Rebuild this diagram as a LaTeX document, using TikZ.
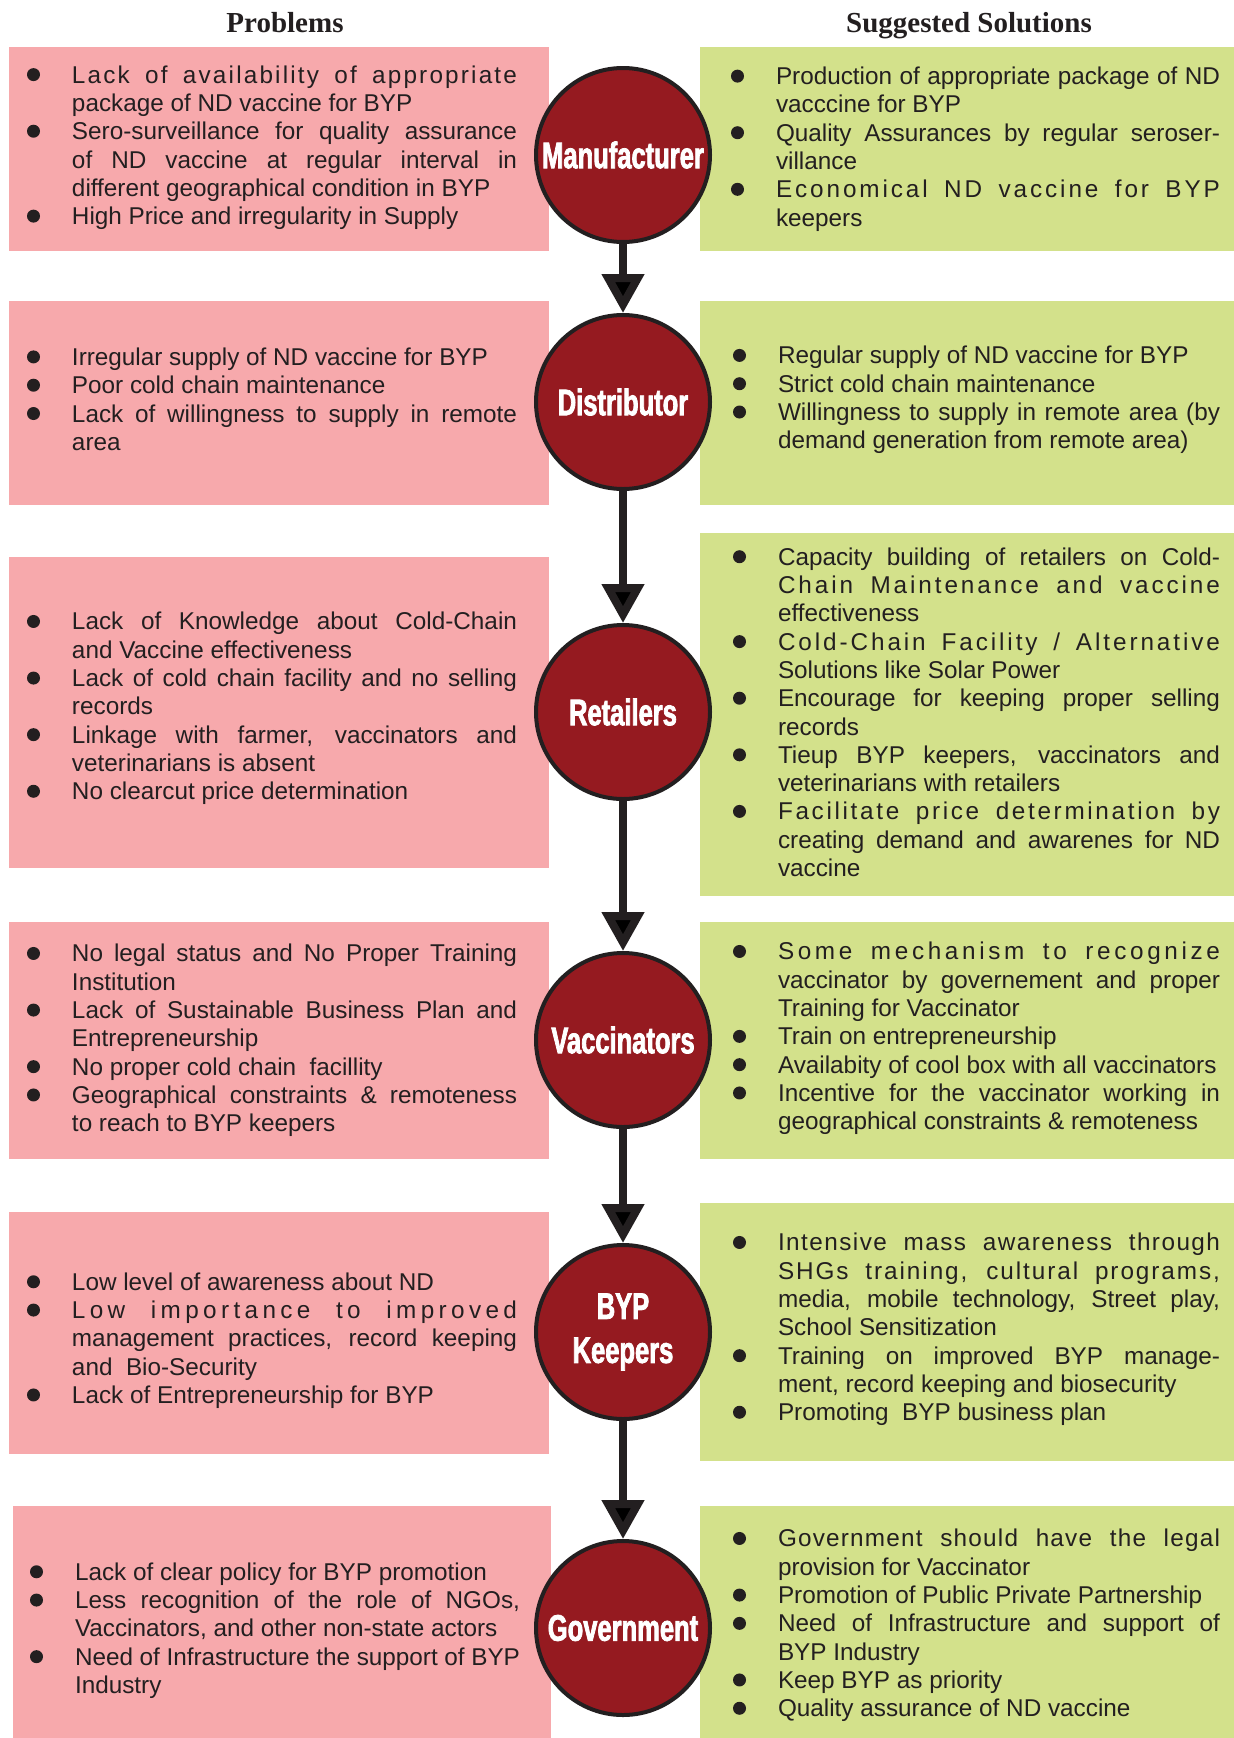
\documentclass[tikz,border=0pt]{standalone}
\usepackage{fontspec}
\usetikzlibrary{arrows.meta}
\setmainfont{Liberation Sans}
\newfontfamily\headfont{Liberation Serif}
\newfontfamily\actorfont{Liberation Sans}[FakeStretch=0.69,FakeBold=2]

\definecolor{ink}{HTML}{231F20}
\definecolor{probpink}{HTML}{F7A9AC}
\definecolor{solgreen}{HTML}{D3E18B}
\definecolor{disc}{HTML}{951A20}

% bullet list lines: \BJ / \J justified, \BN / \N natural width (B = with bullet)
\newlength\bulind
\setlength\bulind{45pt}
\newcommand\strutx{\vrule height 22pt depth 6.3pt width 0pt\relax}
\newcommand\bdot{\tikz[baseline=-8.5pt]\fill[ink] (0,0) circle[radius=6.5pt];}
\newcommand\lsp[1]{\if\relax\detokenize{#1}\relax\else\addfontfeature{LetterSpace=#1}\fi}
\newcommand\jsp{\spaceskip=\fontdimen2\font plus 1fil minus .3\fontdimen2\font\relax}
\newcommand\nsp{\spaceskip=\fontdimen2\font minus .3\fontdimen2\font\relax}
\newcommand\BJ[2][]{\hbox to\hsize{\strutx\makebox[\bulind][l]{\bdot}\lsp{#1}\jsp #2}}
\newcommand\J[2][]{\hbox to\hsize{\strutx\hskip\bulind\relax\lsp{#1}\jsp #2}}
\newcommand\BN[1]{\hbox to\hsize{\strutx\makebox[\bulind][l]{\bdot}\nsp #1\hfil}}
\newcommand\N[1]{\hbox to\hsize{\strutx\hskip\bulind\relax\nsp #1\hfil}}
\newcommand\lines[2]{\vbox{\hsize=#1\offinterlineskip #2}}

\tikzset{
  probbox/.style={fill=probpink, draw=none, inner sep=0pt, outer sep=0pt},
  solbox/.style={fill=solgreen, draw=none, inner sep=0pt, outer sep=0pt},
  actor/.style={circle, fill=disc, draw=ink, line width=4pt, minimum size=174pt,
    inner sep=0pt, text=white, align=center,
    font=\actorfont\bfseries\fontsize{37}{44}\selectfont},
  flow/.style={draw=ink, line width=8pt, -{Triangle[width=41pt,length=39pt]}},
  txt/.style={inner sep=0pt, outer sep=0pt, anchor=west, text=ink,
    font=\fontsize{24.3}{28.3}\selectfont},
  head/.style={inner sep=0pt, anchor=base, text=ink,
    font=\headfont\bfseries\fontsize{29}{32}\selectfont}
}

\begin{document}
\begin{tikzpicture}[x=1pt,y=-1pt]
\useasboundingbox (0,0) rectangle (1234,1738);
\fill[white] (0,0) rectangle (1234,1738);

% column headings
\node[head] (hprob) at (285,32) {Problems};
\node[head] (hsol) at (969,32) {Suggested Solutions};

% background panels
\node[probbox, minimum width=540pt, minimum height=204pt] (p1) at (279,149) {};
\node[solbox,  minimum width=534pt, minimum height=204pt] (s1) at (967,149) {};
\node[probbox, minimum width=540pt, minimum height=204pt] (p2) at (279,403) {};
\node[solbox,  minimum width=534pt, minimum height=204pt] (s2) at (967,403) {};
\node[probbox, minimum width=540pt, minimum height=311pt] (p3) at (279,712.5) {};
\node[solbox,  minimum width=534pt, minimum height=363pt] (s3) at (967,714.5) {};
\node[probbox, minimum width=540pt, minimum height=237pt] (p4) at (279,1040.5) {};
\node[solbox,  minimum width=534pt, minimum height=237pt] (s4) at (967,1040.5) {};
\node[probbox, minimum width=540pt, minimum height=242pt] (p5) at (279,1333) {};
\node[solbox,  minimum width=534pt, minimum height=258pt] (s5) at (967,1332) {};
\node[probbox, minimum width=538pt, minimum height=232pt] (p6) at (282,1622) {};
\node[solbox,  minimum width=534pt, minimum height=232pt] (s6) at (967,1622) {};

% problems
\node[txt] (tp1) at (27,146) {\lines{490pt}{%
\BJ[9]{Lack of availability of appropriate}
\N{package of ND vaccine for BYP}
\BJ{Sero-surveillance for quality assurance}
\J{of ND vaccine at regular interval in}
\N{different geographical condition in BYP}
\BN{High Price and irregularity in Supply}}};

\node[txt] (tp2) at (27,400) {\lines{490pt}{%
\BN{Irregular supply of ND vaccine for BYP}
\BN{Poor cold chain maintenance}
\BJ{Lack of willingness to supply in remote}
\N{area}}};

\node[txt] (tp3) at (27,707) {\lines{490pt}{%
\BJ{Lack of Knowledge about Cold-Chain}
\N{and Vaccine effectiveness}
\BJ{Lack of cold chain facility and no selling}
\N{records}
\BJ{Linkage with farmer, vaccinators and}
\N{veterinarians is absent}
\BN{No clearcut price determination}}};

\node[txt] (tp4) at (27,1039) {\lines{490pt}{%
\BJ{No legal status and No Proper Training}
\N{Institution}
\BJ{Lack of Sustainable Business Plan and}
\N{Entrepreneurship}
\BN{No proper cold chain\ \ facillity}
\BJ{Geographical constraints \& remoteness}
\N{to reach to BYP keepers}}};

\node[txt] (tp5) at (27,1339) {\lines{490pt}{%
\BN{Low level of awareness about ND}
\BJ[18]{Low importance to improved}
\J{management practices, record keeping}
\N{and\ \ Bio-Security}
\BN{Lack of Entrepreneurship for BYP}}};

\node[txt] (tp6) at (30,1629) {\lines{490pt}{%
\BN{Lack of clear policy for BYP promotion}
\BJ{Less recognition of the role of NGOs,}
\N{Vaccinators, and other non-state actors}
\BJ{Need of Infrastructure the support of BYP}
\N{Industry}}};

% suggested solutions
\node[txt] (ts1) at (731,147.5) {\lines{489pt}{%
\BJ{Production of appropriate package of ND}
\N{vacccine for BYP}
\BJ{Quality Assurances by regular seroser-}
\N{villance}
\BJ[12]{Economical ND vaccine for BYP}
\N{keepers}}};

\node[txt] (ts2) at (733,398.5) {\lines{487pt}{%
\BN{Regular supply of ND vaccine for BYP}
\BN{Strict cold chain maintenance}
\BJ{Willingness to supply in remote area (by}
\N{demand generation from remote area)}}};

\node[txt] (ts3) at (733,713) {\lines{487pt}{%
\BJ{Capacity building of retailers on Cold-}
\J[12]{Chain Maintenance and vaccine}
\N{effectiveness}
\BJ[12]{Cold-Chain Facility / Alternative}
\N{Solutions like Solar Power}
\BJ{Encourage for keeping proper selling}
\N{records}
\BJ{Tieup BYP keepers, vaccinators and}
\N{veterinarians with retailers}
\BJ[11]{Facilitate price determination by}
\J{creating demand and awarenes for ND}
\N{vaccine}}};

\node[txt] (ts4) at (733,1037) {\lines{487pt}{%
\BJ[15]{Some mechanism to recognize}
\J{vaccinator by governement and proper}
\N{Training for Vaccinator}
\BN{Train on entrepreneurship}
\BN{Availabity of cool box with all vaccinators}
\BJ{Incentive for the vaccinator working in}
\N{geographical constraints \& remoteness}}};

\node[txt] (ts5) at (733,1328) {\lines{487pt}{%
\BJ[6]{Intensive mass awareness through}
\J[8]{SHGs training, cultural programs,}
\J{media, mobile technology, Street play,}
\N{School Sensitization}
\BJ{Training on improved BYP manage-}
\N{ment, record keeping and biosecurity}
\BN{Promoting\ \ BYP business plan}}};

\node[txt] (ts6) at (733,1624) {\lines{487pt}{%
\BJ[5]{Government should have the legal}
\N{provision for Vaccinator}
\BN{Promotion of Public Private Partnership}
\BJ{Need of Infrastructure and support of}
\N{BYP Industry}
\BN{Keep BYP as priority}
\BN{Quality assurance of ND vaccine}}};

% supply chain actors
\node[actor] (man) at (623,155) {Manufacturer};
\node[actor] (dis) at (623,402) {Distributor};
\node[actor] (ret) at (623,712) {Retailers};
\node[actor] (vac) at (623,1040) {Vaccinators};
\node[actor] (byp) at (623,1332) {BYP\\Keepers};
\node[actor] (gov) at (623,1628) {Government};

\draw[flow] (man) -- (dis);
\draw[flow] (dis) -- (ret);
\draw[flow] (ret) -- (vac);
\draw[flow] (vac) -- (byp);
\draw[flow] (byp) -- (gov);
\end{tikzpicture}
\end{document}
